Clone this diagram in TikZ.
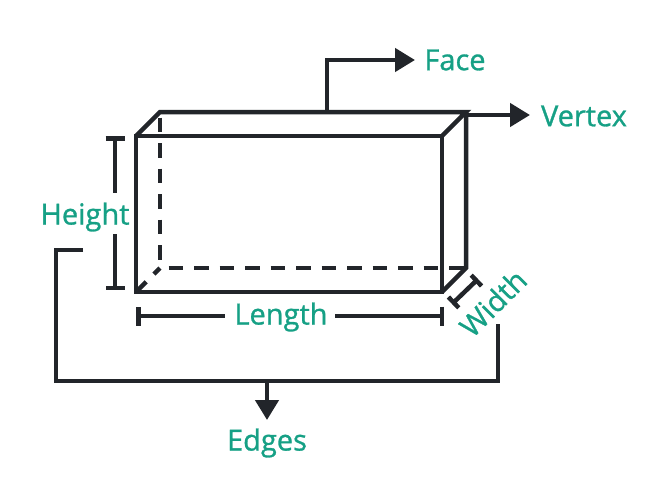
\documentclass[tikz,border=0pt]{standalone}
\usepackage{fontspec}
\setmainfont{Open Sans}
\newfontfamily\lblfont[FakeBold=1]{Open Sans}
\usetikzlibrary{arrows.meta, positioning}
\definecolor{edgedark}{HTML}{22252A}
\definecolor{labelgreen}{HTML}{16A085}
\tikzset{
  edgeline/.style={draw=edgedark, line width=4.5pt, line join=miter},
  hiddenline/.style={edgeline, dash pattern=on 14.5pt off 11pt},
  pointer/.style={edgeline, -{Triangle[length=20pt, width=23pt]}},
  dimline/.style={edgeline, {Bar[width=15pt]}-{Bar[width=15pt]}},
  dimend/.style={edgeline, {Bar[width=19pt]}-},
  lbl/.style={text=labelgreen, font=\lblfont\fontsize{29}{32}\selectfont, inner sep=0pt}
}
\begin{document}
\begin{tikzpicture}[x=1pt, y=-1pt]
    \useasboundingbox (0,0) rectangle (670,498);
    % corners of the box
    \coordinate (fronttl) at (136,136);
    \coordinate (fronttr) at (442,136);
    \coordinate (frontbl) at (136,292);
    \coordinate (frontbr) at (442,292);
    \coordinate (backtl) at (160,112);
    \coordinate (backtr) at (466,112);
    \coordinate (backbl) at (160,268);
    \coordinate (backbr) at (466,268);
    % labels
    \node[lbl] (face) at (455,60) {Face};
    \node[lbl] (vertex) at (584,116) {Vertex};
    \node[lbl] (height) at (85,217) {Height};
    \node[lbl] (length) at (281,317) {Length};
    \node[lbl, rotate=45] (width) at (493,303) {Width};
    \node[lbl] (edges) at (267,443) {Edges};
    % hidden edges
    \draw[hiddenline, dash phase=20pt] (backtl) -- (backbl);
    \draw[hiddenline, dash phase=17pt] (backbl) -- (backbr);
    \draw[hiddenline, dash phase=6pt] (backbl) -- (frontbl);
    % visible edges
    \draw[edgeline] (fronttl) rectangle (frontbr);
    \draw[edgeline] (fronttl) -- (backtl) -- (backtr) -- (fronttr);
    \draw[edgeline] (backtr) -- (backbr) -- (frontbr);
    % dimensions
    \coordinate (heighttop) at (115,136);
    \coordinate (heightbot) at (115,290);
    \coordinate (lengthleft) at (136,316);
    \coordinate (lengthright) at (444,316);
    \coordinate (widtha) at (452,304);
    \coordinate (widthb) at (478,279);
    \draw[dimend] (heighttop) -- (115,193);
    \draw[dimend] (heightbot) -- (115,234);
    \draw[dimend] (lengthleft) -- (225,316);
    \draw[dimend] (lengthright) -- (335,316);
    \draw[dimline] (widtha) -- (widthb);
    % pointers
    \coordinate (facestart) at (327,112);
    \coordinate (faceend) at (415,60);
    \coordinate (vertexend) at (530,115);
    \draw[pointer] (facestart) |- (faceend);
    \draw[pointer] (466,115) -- (vertexend);
    \coordinate (edgestart) at (83,250);
    \coordinate (edgecorner) at (56,381);
    \coordinate (edgeend) at (498,324);
    \coordinate (edgemid) at (267,381);
    \coordinate (edgetip) at (267,420);
    \draw[edgeline] (edgestart) -| (edgecorner) -| (edgeend);
    \draw[pointer] (edgemid) -- (edgetip);
  \end{tikzpicture}
\end{document}
